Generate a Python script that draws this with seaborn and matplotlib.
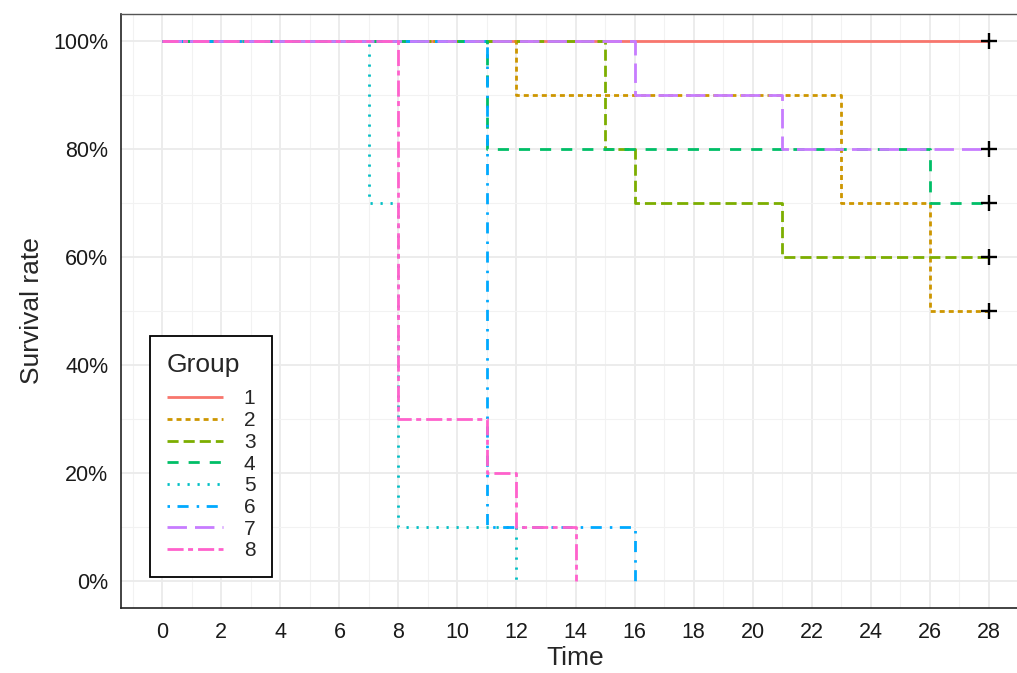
import pandas as pd
import matplotlib
matplotlib.use('Agg')
import matplotlib.pyplot as plt
from matplotlib.lines import Line2D
from matplotlib.ticker import PercentFormatter, MultipleLocator
import seaborn as sns

# Kaplan-Meier style step curves
groups = ['1', '2', '3', '4', '5', '6', '7', '8']
times = {
    '1': [0, 28],
    '2': [0, 12, 23, 26, 28],
    '3': [0, 15, 16, 21, 28],
    '4': [0, 11, 26, 28],
    '5': [0, 7, 8, 12],
    '6': [0, 11, 16],
    '7': [0, 16, 21, 28],
    '8': [0, 8, 11, 12, 14],
}
survival = {
    '1': [1.0, 1.0],
    '2': [1.0, 0.9, 0.7, 0.5, 0.5],
    '3': [1.0, 0.8, 0.7, 0.6, 0.6],
    '4': [1.0, 0.8, 0.7, 0.7],
    '5': [1.0, 0.7, 0.1, 0.0],
    '6': [1.0, 0.1, 0.0],
    '7': [1.0, 0.9, 0.8, 0.8],
    '8': [1.0, 0.3, 0.2, 0.1, 0.0],
}
# censored observations (time, survival)
censor_time = [28, 28, 28, 28, 28]
censor_surv = [1.0, 0.5, 0.6, 0.7, 0.8]

colors = ['#F8766D', '#CD9600', '#7CAE00', '#00BE67',
          '#00BFC4', '#00A9FF', '#C77CFF', '#FF61CC']
dash_styles = {
    '1': '',
    '2': (1.8, 1.45),
    '3': (4, 1.8),
    '4': (4, 3.6),
    '5': (0.8, 2.8),
    '6': (0.9, 2.7, 4, 2.9),
    '7': (7, 2.9),
    '8': (5.8, 1.6, 1.8, 1.8),
}

rows = []
for g in groups:
    for t, s in zip(times[g], survival[g]):
        rows.append({'Time': t, 'Survival': s, 'Group': g})
df = pd.DataFrame(rows)

sns.set_style('white')
plt.rcParams['font.family'] = ['Liberation Sans', 'DejaVu Sans']
plt.rcParams['lines.solid_capstyle'] = 'butt'
plt.rcParams['lines.dash_capstyle'] = 'butt'

fig = plt.figure(figsize=(10.17, 6.73), dpi=100)
ax = fig.add_axes([121 / 1017, 1 - 608 / 673, 909 / 1017, 594 / 673])

lw = 2.0
palette = dict(zip(groups, colors))
sns.lineplot(data=df, x='Time', y='Survival', hue='Group', style='Group',
             hue_order=groups, style_order=groups, palette=palette,
             dashes=dash_styles, estimator=None, sort=False,
             drawstyle='steps-post', linewidth=lw, legend=False, ax=ax)

sns.scatterplot(x=censor_time, y=censor_surv, marker='+', color='black',
                s=130, linewidth=1.7, legend=False, ax=ax, zorder=5)

ax.set_xlim(-1.4, 29.4)
ax.set_ylim(-0.05, 1.05)
ax.xaxis.set_major_locator(MultipleLocator(2))
ax.xaxis.set_minor_locator(MultipleLocator(1))
ax.yaxis.set_major_locator(MultipleLocator(0.2))
ax.yaxis.set_minor_locator(MultipleLocator(0.1))
ax.yaxis.set_major_formatter(PercentFormatter(1.0, decimals=0))

ax.grid(which='major', color='#EBEBEB', linewidth=1.3)
ax.grid(which='minor', color='#F2F2F2', linewidth=0.8)
ax.set_axisbelow(True)

ax.tick_params(which='major', length=4, width=1.2, color='#333333',
               labelsize=15.5, labelcolor='#1a1a1a')
ax.tick_params(axis='x', pad=6)
ax.tick_params(axis='y', pad=5)
ax.tick_params(which='minor', length=0)

for side in ['top', 'right']:
    ax.spines[side].set_color('#555555')
    ax.spines[side].set_linewidth(1.0)
for side in ['left', 'bottom']:
    ax.spines[side].set_color('#222222')
    ax.spines[side].set_linewidth(1.2)

ax.set_xlabel('Time', fontsize=19, labelpad=2)
ax.set_ylabel('Survival rate', fontsize=19, labelpad=7)

handles = []
for g, c in zip(groups, colors):
    ls = '-' if dash_styles[g] == '' else (0, dash_styles[g])
    handles.append(Line2D([0], [0], color=c, linewidth=lw, linestyle=ls))
leg = ax.legend(handles, groups, title='Group', loc='lower left',
                bbox_to_anchor=(0.032, 0.052), borderaxespad=0,
                fontsize=15, title_fontsize=19, handlelength=2.7,
                handletextpad=1.0, labelspacing=0.13, borderpad=0.8,
                fancybox=False, framealpha=1, edgecolor='black',
                alignment='left')
leg.get_frame().set_linewidth(1.3)
leg._legend_box.sep = 9  # extra room under the legend title

plt.savefig('out.png', dpi=100)
